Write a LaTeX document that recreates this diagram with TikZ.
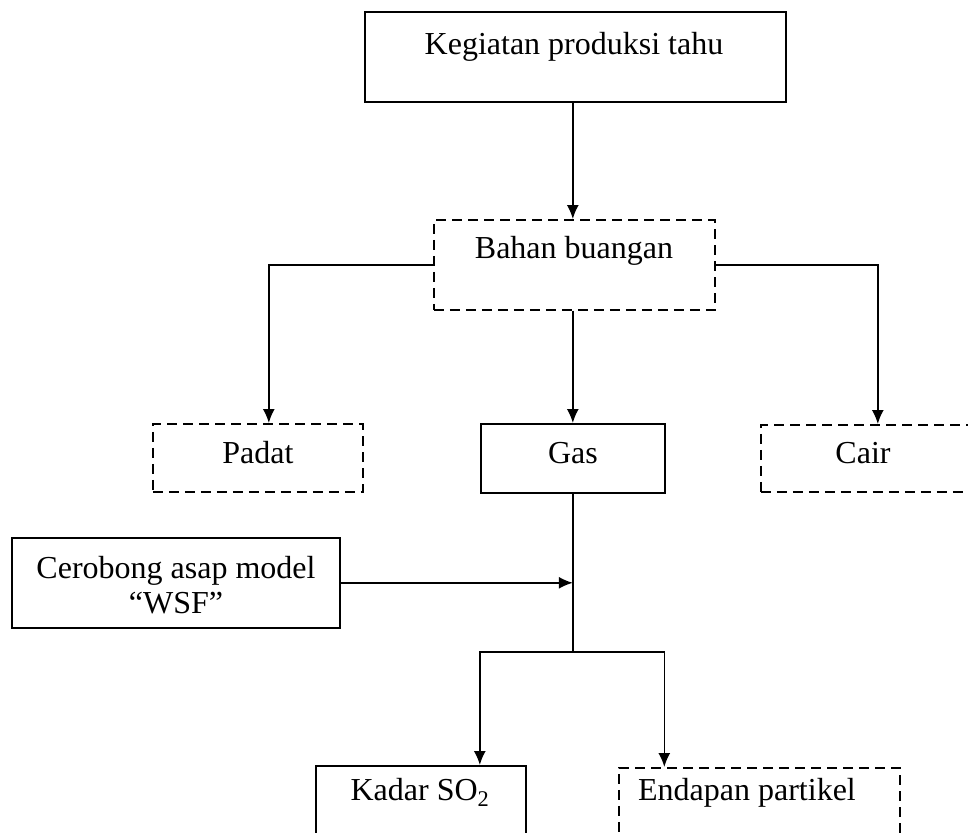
\documentclass[tikz,border=0pt]{standalone}
\usepackage{fontspec}
\setmainfont{Liberation Serif}
\usetikzlibrary{arrows.meta}

\begin{document}
\begin{tikzpicture}[>={Latex[length=14pt,width=12pt]}, x=1pt, y=-1pt, line width=1.6pt,
    box/.style={draw, rectangle, inner sep=0pt, anchor=north west},
    dbox/.style={box, dash pattern=on 10pt off 6pt},
    txt/.style={anchor=base, inner sep=0pt, align=center, font=\fontsize{32}{35}\selectfont}]

        % --- FRAME ---
        \useasboundingbox (0,0) rectangle (968,832);
        \clip (0,0) rectangle (968,832);

        % --- BOXES ---
        \node[box, minimum width=421pt, minimum height=90pt] (kegiatan) at (364,11) {};
        \node[dbox, minimum width=281pt, minimum height=90pt] (bahan) at (433,219) {};
        \node[dbox, minimum width=210pt, minimum height=68pt] (padat) at (152,423) {};
        \node[box, minimum width=184pt, minimum height=69pt] (gas) at (480,423) {};
        \node[dbox, minimum width=234pt, minimum height=67pt] (cair) at (760,424) {};
        \node[box, minimum width=328pt, minimum height=90pt] (cerobong) at (11,537) {};
        \node[box, minimum width=210pt, minimum height=120pt] (kadar) at (315,765) {};
        \node[dbox, minimum width=281pt, minimum height=120pt] (endapan) at (618,767) {};

        % --- TEXTS ---
        \node[txt] (kegiatan-t) at (574,55) {Kegiatan produksi tahu};
        \node[txt] (bahan-t) at (574,258) {Bahan buangan};
        \node[txt] (padat-t) at (258,463) {Padat};
        \node[txt] (gas-t) at (573,463) {Gas};
        \node[txt] (cair-t) at (863,463) {Cair};
        \node[txt, anchor=center] (cerobong-t) at (176,585) {Cerobong asap model\\``WSF''};
        \node[txt] (kadar-t) at (420,800) {Kadar SO\textsubscript{2}};
        \node[txt] (endapan-t) at (747,800) {Endapan partikel};

        % --- CONNECTORS ---
        \coordinate (split) at (gas.south |- 0,652);
        \draw[->] (kegiatan.south -| gas.north) -- (bahan.north -| gas.north);
        \draw[->] (bahan.west |- 0,265) -| ([xshift=11pt]padat.north);
        \draw[->] (bahan.east |- 0,265) -| (cair.north);
        \draw[->] (bahan.south -| gas.north) -- (gas.north);
        \draw (gas.south) -- (split);
        \draw[->] (cerobong.east) -- (cerobong.east -| gas.south);
        \draw[->] (split) -| ([xshift=59pt]kadar.north);
        \draw[->] (split) -| ([xshift=-95pt]endapan.north);
    \end{tikzpicture}
\end{document}
